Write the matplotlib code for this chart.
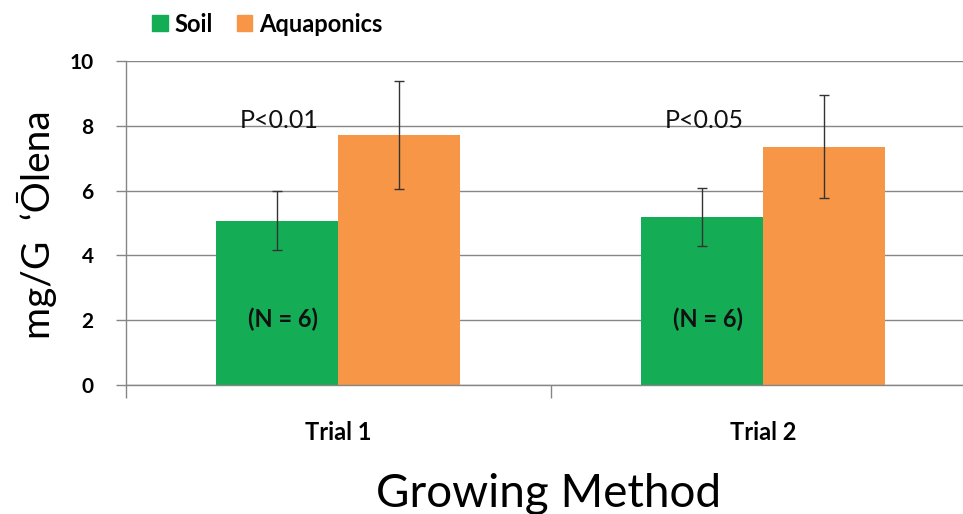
import matplotlib
matplotlib.use("Agg")
import matplotlib.pyplot as plt
from matplotlib.patches import Patch
import numpy as np

# data
trials = ["Trial 1", "Trial 2"]
soil_mean = [5.07, 5.19]
soil_err = [0.91, 0.89]
aqua_mean = [7.72, 7.36]
aqua_err = [1.67, 1.60]
p_labels = ["P<0.01", "P<0.05"]
n_labels = ["(N = 6)", "(N = 6)"]
y_ticks = [0, 2, 4, 6, 8, 10]

green = "#14ad55"
orange = "#f79646"
gray = "#868686"
fonts = ["Lato", "DejaVu Sans"]

plt.rcParams["font.family"] = fonts

fig = plt.figure(figsize=(9.63, 5.14), dpi=100)
# axes runs a little past the right edge, as in the cropped original
ax = fig.add_axes([125.5 / 963, 129 / 514, 850 / 963, 324 / 514])

x = np.arange(len(trials))
bw = 0.287

ax.bar(x - bw / 2, soil_mean, bw, color=green, zorder=2)
ax.bar(x + bw / 2, aqua_mean, bw, color=orange, zorder=2)
ax.errorbar(x - bw / 2, soil_mean, yerr=soil_err, fmt="none", ecolor="#333333",
            elinewidth=1, capsize=3.5, capthick=1, zorder=3)
ax.errorbar(x + bw / 2, aqua_mean, yerr=aqua_err, fmt="none", ecolor="#333333",
            elinewidth=1, capsize=3.5, capthick=1, zorder=3)

for i in range(len(trials)):
    ax.text(x[i] - bw / 2 + 0.005, 8.16, p_labels[i], ha="center", va="center",
            fontsize=18, color="#111111", zorder=4)
    ax.text(x[i] - bw / 2 + 0.015, 2.04, n_labels[i], ha="center", va="center",
            fontsize=17, fontweight="bold", color="#111111", zorder=4)

ax.set_xlim(-0.5, 1.5)
ax.set_ylim(0, 10)
ax.set_yticks(y_ticks)
ax.set_yticklabels([str(v) for v in y_ticks], fontsize=15, fontweight="bold")
ax.yaxis.grid(True, color=gray, linewidth=1, zorder=0)
ax.set_axisbelow(True)

ax.set_xticks(x)
ax.set_xticklabels(trials, fontsize=17, fontweight="bold")
ax.set_xticks([-0.5, 0.5, 1.5], minor=True)
ax.tick_params(axis="x", which="major", length=0, pad=26)
ax.tick_params(axis="x", which="minor", length=9, color=gray, width=1)
ax.tick_params(axis="y", length=7, color=gray, width=1, pad=16)

for side in ["top", "right"]:
    ax.spines[side].set_visible(False)
for side in ["left", "bottom"]:
    ax.spines[side].set_color(gray)
    ax.spines[side].set_linewidth(1)

fig.text(37 / 963, 1 - 225 / 514, "mg/G  ʻŌlena", rotation=90, ha="center",
         va="center", fontsize=28)
fig.text(549 / 963, 1 - 507 / 514, "Growing Method", ha="center", va="baseline",
         fontsize=33)

handles = [Patch(color=green, label="Soil"), Patch(color=orange, label="Aquaponics")]
fig.legend(handles=handles, ncol=2, loc="center left",
           bbox_to_anchor=(131 / 963, 1 - 24 / 514), frameon=False,
           handlelength=0.65, handleheight=0.65, handletextpad=0.3,
           columnspacing=1.0, prop={"size": 17, "weight": "bold"})

fig.savefig("out.png", dpi=100)
